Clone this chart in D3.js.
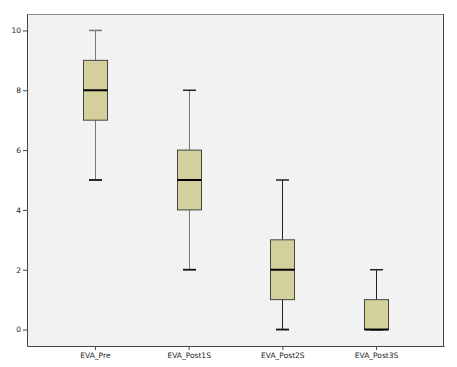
<html>
  <head>
    <meta charset="utf-8" />
    <script src="https://cdnjs.cloudflare.com/ajax/libs/d3/7.6.1/d3.min.js"></script>
    <style>
      body { margin: 0; background: #fff; }
      .axis text { font-family: "DejaVu Sans", sans-serif; font-size: 7.5px; fill: #222; }
      .axis path, .axis line { stroke: #444; }
    </style>
  </head>
  <body>
    <svg width="457" height="367"></svg>
  </body>
  <script>
    // box stats
    let categories = ["EVA_Pre", "EVA_Post1S", "EVA_Post2S", "EVA_Post3S"];
    let mins = [5, 2, 0, 0];
    let q1s = [7, 4, 1, 0];
    let medians = [8, 5, 2, 0];
    let q3s = [9, 6, 3, 1];
    let maxs = [10, 8, 5, 2];
    let yTicks = [0, 2, 4, 6, 8, 10];

    let svg = d3.select("svg"),
      margin = { top: 14, right: 13, bottom: 21, left: 27 },
      width = +svg.attr("width") - margin.left - margin.right,
      height = +svg.attr("height") - margin.top - margin.bottom;

    let data = categories.map((c, i) => ({
      cat: c, min: mins[i], q1: q1s[i], med: medians[i], q3: q3s[i], max: maxs[i]
    }));

    let x = d3.scalePoint().domain(categories).range([0, width]).padding(0.725),
      y = d3.scaleLinear().domain([-0.55, 10.55]).range([height, 0]);

    let g = svg.append("g")
      .attr("transform", `translate(${margin.left},${margin.top})`);

    g.append("rect")
      .attr("width", width).attr("height", height)
      .attr("fill", "#f1f2f1")
      .attr("stroke", "none");

    // frame top + right
    g.append("line").attr("x1", 0).attr("x2", width).attr("y1", 0.5).attr("y2", 0.5)
      .attr("stroke", "#8a8a8a");
    g.append("line").attr("x1", width - 0.5).attr("x2", width - 0.5).attr("y1", 0).attr("y2", height)
      .attr("stroke", "#444");

    g.append("g")
      .attr("class", "axis axis--x")
      .attr("transform", `translate(0,${height})`)
      .call(d3.axisBottom(x).tickSize(4).tickSizeOuter(0).tickPadding(3));

    g.append("g")
      .attr("class", "axis axis--y")
      .call(d3.axisLeft(y).tickValues(yTicks).tickSize(4).tickSizeOuter(0).tickPadding(2));

    let bw = 24, cw = 12;

    let box = g.selectAll(".box")
      .data(data)
      .enter()
      .append("g")
      .attr("class", "box")
      .attr("transform", (d) => `translate(${Math.round(x(d.cat))},0)`);

    box.append("line")
      .attr("x1", 0.5).attr("x2", 0.5)
      .attr("y1", (d) => y(d.max)).attr("y2", (d) => y(d.q3))
      .attr("stroke", (d, i) => (i < 2 ? "#777" : "#222"));
    box.append("line")
      .attr("x1", 0.5).attr("x2", 0.5)
      .attr("y1", (d) => y(d.q1)).attr("y2", (d) => y(d.min))
      .attr("stroke", (d, i) => (i < 2 ? "#777" : "#222"));
    box.append("line")
      .attr("x1", -cw / 2).attr("x2", cw / 2 + 1)
      .attr("y1", (d) => y(d.max)).attr("y2", (d) => y(d.max))
      .attr("stroke", (d, i) => (i === 0 ? "#777" : "#222")).attr("stroke-width", 1.5);
    box.append("line")
      .attr("x1", -cw / 2).attr("x2", cw / 2 + 1)
      .attr("y1", (d) => y(d.min)).attr("y2", (d) => y(d.min))
      .attr("stroke", "#111").attr("stroke-width", 1.8);

    box.append("rect")
      .attr("x", -bw / 2 + 0.5)
      .attr("y", (d) => y(d.q3))
      .attr("width", bw)
      .attr("height", (d) => y(d.q1) - y(d.q3))
      .attr("fill", "#d4d09b")
      .attr("stroke", "#444");

    box.append("line")
      .attr("x1", -bw / 2 + 0.5).attr("x2", bw / 2 + 0.5)
      .attr("y1", (d) => y(d.med)).attr("y2", (d) => y(d.med))
      .attr("stroke", "#000").attr("stroke-width", 2);
  </script>
</html>
